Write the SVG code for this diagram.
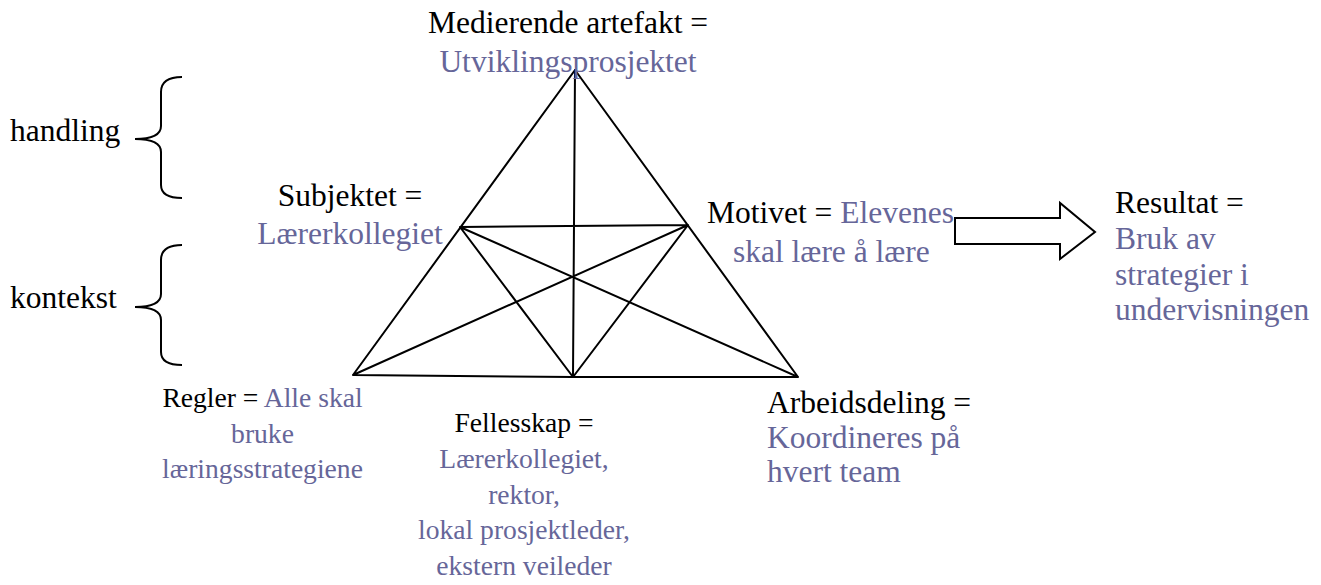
<svg xmlns="http://www.w3.org/2000/svg" width="1321" height="585" viewBox="0 0 1321 585">
<style>
text{font-family:"Liberation Serif","Times New Roman",serif;font-size:31.5px;fill:#000}
.s text{font-size:27.6px}
.b{fill:#666699}
.c{text-anchor:middle}
.ln{stroke:#000;stroke-width:2;fill:none;stroke-linecap:round}
.br{stroke:#000;stroke-width:2;fill:none}
</style>
<rect width="1321" height="585" fill="#fff"/>
<g id="connectors">
<path class="ln" d="M575,70 L353,375 M575,70 L798,377 M353,375 L573,377 L798,377 M575,70 L573,377 M460,227 L688,225 M460,227 L573,377 M460,227 L798,377 M688,225 L353,375 M688,225 L573,377"/>
</g>
<g id="braces">
<path class="br" d="M182,77 Q161,77 161,92 L161,126 Q161,139 135,139 Q161,139 161,152 L161,185 Q161,198 182,198"/>
<path class="br" d="M182,245 Q161,245 161,260 L161,294 Q161,307 135,307 Q161,307 161,320 L161,352 Q161,365 182,365"/>
</g>
<g id="handling"><text x="10" y="141">handling</text></g>
<g id="kontekst"><text x="10" y="308">kontekst</text></g>
<g id="artefakt">
<text class="c" x="568" y="33">Medierende artefakt =</text>
<text class="c b" x="568" y="72">Utviklingsprosjektet</text>
</g>
<g id="subjekt">
<text class="c" x="350" y="206">Subjektet =</text>
<text class="c b" x="350" y="244">Lærerkollegiet</text>
</g>
<g id="motiv">
<text x="707" y="223">Motivet = <tspan class="b">Elevenes</tspan></text>
<text class="b" x="733" y="262">skal lære å lære</text>
</g>
<g id="regler" class="s">
<text class="c" x="262.5" y="407">Regler = <tspan class="b">Alle skal</tspan></text>
<text class="c b" x="262.5" y="443">bruke</text>
<text class="c b" x="262.5" y="478">læringsstrategiene</text>
</g>
<g id="fellesskap" class="s">
<text class="c" x="524" y="432">Fellesskap =</text>
<text class="c b" x="524" y="468">Lærerkollegiet,</text>
<text class="c b" x="524" y="503.5">rektor,</text>
<text class="c b" x="524" y="539">lokal prosjektleder,</text>
<text class="c b" x="524" y="574.5">ekstern veileder</text>
</g>
<g id="arbeidsdeling">
<text x="767" y="413">Arbeidsdeling =</text>
<text class="b" x="767" y="448">Koordineres på</text>
<text class="b" x="767" y="482">hvert team</text>
</g>
<g id="pil">
<polygon points="955,218 1060,218 1060,203 1095,232 1060,259 1060,244 955,244" fill="#fff" stroke="#000" stroke-width="2" stroke-linejoin="miter"/>
</g>
<g id="resultat">
<text x="1115" y="213">Resultat =</text>
<text class="b" x="1115" y="249">Bruk av</text>
<text class="b" x="1115" y="285">strategier i</text>
<text class="b" x="1115" y="320">undervisningen</text>
</g>
</svg>
